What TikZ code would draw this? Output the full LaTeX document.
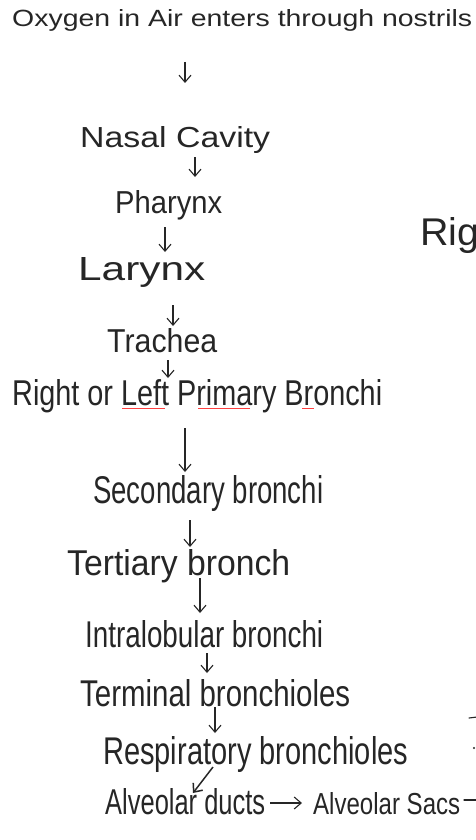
\documentclass[tikz,border=0pt]{standalone}
\usepackage{fontspec}
\setmainfont{Liberation Sans}
\usepackage{graphicx}
\usetikzlibrary{arrows.meta,calc}
\tikzset{
  hw/.style={anchor=base west, inner sep=0pt, text=black!85},
  arr/.style={draw=black!85, line width=1.1pt, -{Straight Barb[length=7pt,width=12pt]}},
  plainline/.style={draw=black!85, line width=1.1pt, line cap=round},
  squig/.style={draw=red!75, line width=0.7pt}
}
\newcommand{\hwt}[3]{\resizebox{#1pt}{#2pt}{#3}}
\begin{document}
\begin{tikzpicture}[x=1pt,y=-1pt]
\useasboundingbox (0,0) rectangle (476,840);
\clip (0,0) rectangle (476,840);
\fill[white] (0,0) rectangle (476,840);

\node[hw] (oxy)   at (12,27)   {\hwt{460}{17}{Oxygen in Air enters through nostrils}};
\node[hw] (nasal) at (80,147)  {\hwt{190}{21}{Nasal Cavity}};
\node[hw] (phar)  at (115,213) {\hwt{107}{23}{Pharynx}};
\node[hw] (lar)   at (78,280)  {\hwt{127}{23}{Larynx}};
\node[hw] (tra)   at (107,352) {\hwt{110}{24}{Trachea}};
\node[hw] (rlpb)  at (12,405)  {\hwt{370}{26}{Right or Left Primary Bronchi}};
\node[hw] (sec)   at (93,503)  {\hwt{230}{28}{Secondary bronchi}};
\node[hw] (ter)   at (67,575)  {\hwt{223}{26}{Tertiary bronch}};
\node[hw] (intra) at (85,647)  {\hwt{238}{27}{Intralobular bronchi}};
\node[hw] (term)  at (80,706)  {\hwt{270}{27}{Terminal bronchioles}};
\node[hw] (resp)  at (103,764) {\hwt{305}{28}{Respiratory bronchioles}};
\node[hw] (duct)  at (105,814) {\hwt{160}{26}{Alveolar ducts}};
\node[hw] (sacs)  at (313,814) {\hwt{147}{22}{Alveolar Sacs}};
\node[hw] (right) at (420,245) {\hwt{92}{28}{Right}};
\coordinate (edge) at (476,800);

% red spell-check underlines
\draw[squig] ($(rlpb.base west)+(110,3)$) -- ($(rlpb.base west)+(153,3)$);
\draw[squig] ($(rlpb.base west)+(186,3)$) -- ($(rlpb.base west)+(238,3)$);
\draw[squig] ($(rlpb.base west)+(290,3)$) -- ($(rlpb.base west)+(302,3)$);

% connectors
\draw[arr] ($(oxy.base west)+(173,35)$)   -- ($(nasal.base west)+(105,-64)$);
\draw[arr] ($(nasal.base west)+(115,10)$) -- ($(phar.base west)+(80,-36)$);
\draw[arr] ($(phar.base west)+(50,14)$)   -- ($(lar.base west)+(87,-28)$);
\draw[arr] ($(lar.base west)+(95,25)$)    -- ($(tra.base west)+(66,-26)$);
\draw[arr] ($(tra.base west)+(61,8)$)     -- ($(rlpb.base west)+(156,-27)$);
\draw[arr] ($(rlpb.base west)+(173,23)$)  -- ($(sec.base west)+(92,-31)$);
\draw[arr] ($(sec.base west)+(97,17)$)    -- ($(ter.base west)+(123,-28)$);
\draw[arr] ($(ter.base west)+(133,3)$)    -- ($(intra.base west)+(115,-34)$);
\draw[arr] ($(intra.base west)+(122,6)$)  -- ($(term.base west)+(127,-33)$);
\draw[arr] ($(term.base west)+(135,1)$)   -- ($(resp.base west)+(112,-31)$);
\draw[arr, line width=1.5pt] ($(resp.base west)+(110,3)$) -- ($(duct.base west)+(88,-21)$);
\draw[arr] ($(duct.base west)+(165,-11)$) -- ($(sacs.base west)+(-11,-11)$);
\draw[plainline] ($(sacs.base west)+(151,-14)$) -- (edge);

% cropped marks at the right edge
\draw[plainline] (469,718) -- (477,717);
\fill[black!85] (474,748) circle (1.2);
\end{tikzpicture}
\end{document}
